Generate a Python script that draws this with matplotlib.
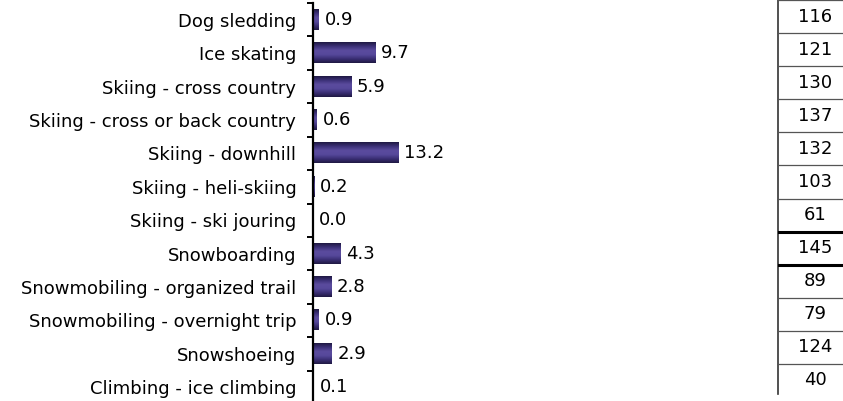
import numpy as np
import matplotlib
matplotlib.use("Agg")
import matplotlib.pyplot as plt
from matplotlib.colors import LinearSegmentedColormap

# Winter activity participation (%) and index values
activities = [
    "Dog sledding",
    "Ice skating",
    "Skiing - cross country",
    "Skiing - cross or back country",
    "Skiing - downhill",
    "Skiing - heli-skiing",
    "Skiing - ski jouring",
    "Snowboarding",
    "Snowmobiling - organized trail",
    "Snowmobiling - overnight trip",
    "Snowshoeing",
    "Climbing - ice climbing",
]
percent = [0.9, 9.7, 5.9, 0.6, 13.2, 0.2, 0.0, 4.3, 2.8, 0.9, 2.9, 0.1]
index_values = [116, 121, 130, 137, 132, 103, 61, 145, 89, 79, 124, 40]
highlight_row = 7

plt.rcParams["font.family"] = ["DejaVu Sans"]
FS = 13

W, H = 843, 401
fig = plt.figure(figsize=(W / 100, H / 100), dpi=100)

# main bar axes
x0, x1 = 313, 760
px_per_unit = 6.45
ax = fig.add_axes([x0 / W, -3 / H, (x1 - x0) / W, 1.0])
n = len(activities)

shade = LinearSegmentedColormap.from_list(
    "bar", ["#1f1843", "#3c3178", "#5b4c9e", "#56489b", "#3a2f74", "#1f1843"])
grad = np.linspace(0, 1, 64).reshape(-1, 1)
bar_h = 0.6
for i, v in enumerate(percent):
    if v > 0:
        ax.imshow(grad, cmap=shade, aspect="auto", interpolation="bilinear",
                  extent=[0, v, i + bar_h / 2, i - bar_h / 2], zorder=2)
    ax.text(v + 0.9, i, f"{v:.1f}", va="center", ha="left", fontsize=FS)
ax.set_ylim(n - 0.5, -0.5)
ax.set_xlim(0, (x1 - x0) / px_per_unit)

for s in ["top", "right", "bottom"]:
    ax.spines[s].set_visible(False)
ax.spines["left"].set_linewidth(1.6)
ax.set_xticks([])
ax.set_yticks(range(n))
ax.set_yticklabels(activities, fontsize=FS)
ax.set_yticks(np.arange(-0.5, n, 1), minor=True)
ax.tick_params(axis="y", which="major", length=0, pad=12)
ax.tick_params(axis="y", which="minor", length=4, width=1.4, direction="out")

# index column on the right
tx = fig.add_axes([778 / W, 0, (W - 778) / W, 1.0])
tx.set_xlim(0, 1)
tx.set_ylim(n - 0.5 + 4 / 33.4, -0.5)
tx.axis("off")
tx.plot([0, 0], [-0.5, n - 0.5 - 0.1], color="#333333", lw=1.2, clip_on=False)
for i, v in enumerate(index_values):
    tx.text(0.57, i, str(v), ha="center", va="center", fontsize=FS)
for k in range(n):
    y = k - 0.5
    if k in (highlight_row, highlight_row + 1):
        tx.plot([0, 1], [y, y], color="black", lw=2.2)
    else:
        tx.plot([0, 1], [y, y], color="#555555", lw=0.9)

fig.savefig("out.png", dpi=100)
